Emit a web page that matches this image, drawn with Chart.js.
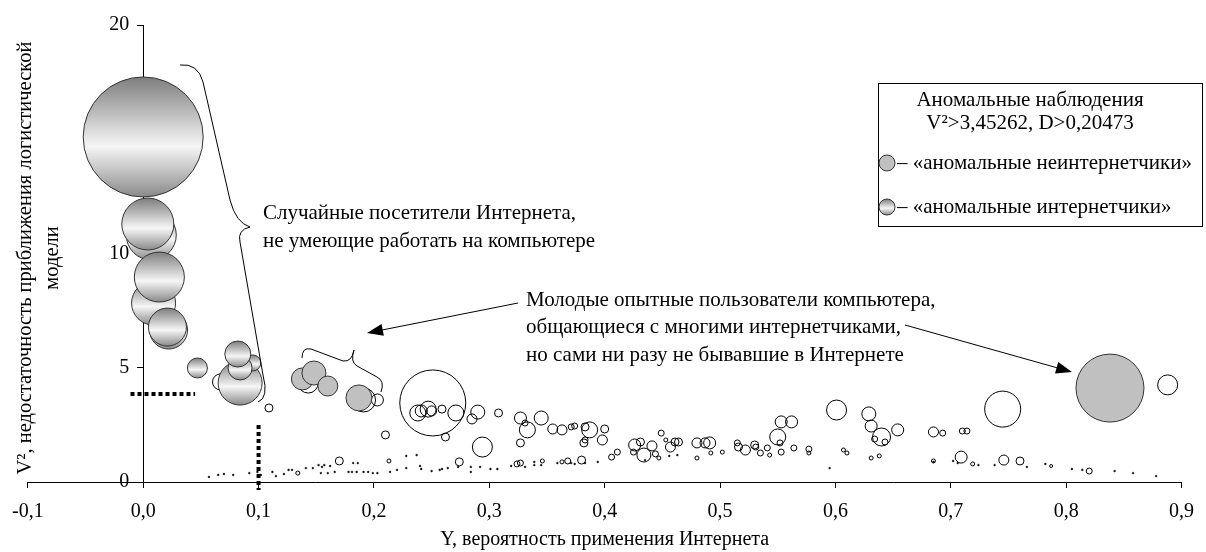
<!DOCTYPE html>
<html lang="ru">
<head>
<meta charset="UTF-8">
<title>Аномальные наблюдения</title>
<script src="https://cdn.jsdelivr.net/npm/chart.js@4"></script>
<style>
  html, body { margin: 0; padding: 0; background: #fff; }
  canvas { display: block; }
</style>
</head>
<body>
<canvas id="anomalyChart" width="1206" height="552"></canvas>
<script>
// оси
const xTicks = [-0.1, 0, 0.1, 0.2, 0.3, 0.4, 0.5, 0.6, 0.7, 0.8, 0.9];
const yTicks = [0, 5, 10, 15, 20];

// «аномальные неинтернетчики» (серые)
const grayX = [0.138, 0.148, 0.160, 0.187, 0.838];
const grayY = [4.51, 4.77, 4.20, 3.68, 4.11];
const grayR = [11, 12, 10, 13, 34];

// «аномальные интернетчики» (с переливом)
const shadedX = [0.000, 0.007, 0.004, 0.009, 0.014, 0.022, 0.021, 0.047, 0.084, 0.095, 0.084, 0.082];
const shadedY = [15.10, 10.81, 11.29, 7.83, 8.97, 6.65, 6.78, 4.99, 4.33, 5.21, 4.99, 5.60];
const shadedR = [60, 25, 26, 22, 25, 19, 19, 10, 22, 8, 12, 13];

// обычные наблюдения (пустые кружки)
const openX = [0.067, 0.143, 0.191, 0.203, 0.109, 0.210, 0.170, 0.251, 0.238, 0.241, 0.247, 0.250, 0.259, 0.271,
  0.262, 0.290, 0.285, 0.294, 0.308, 0.327, 0.333, 0.331, 0.327, 0.345, 0.355, 0.363, 0.371, 0.374, 0.383, 0.387,
  0.382, 0.383, 0.400, 0.398, 0.406, 0.411, 0.426, 0.434, 0.441, 0.431, 0.449, 0.453, 0.457, 0.461, 0.464, 0.444,
  0.447, 0.480, 0.487, 0.491, 0.480, 0.492, 0.502, 0.515, 0.516, 0.522, 0.530, 0.531, 0.535, 0.541, 0.543, 0.550,
  0.553, 0.562, 0.553, 0.552, 0.564, 0.577, 0.577, 0.601, 0.629, 0.631, 0.640, 0.654, 0.634, 0.643, 0.607, 0.610,
  0.631, 0.638, 0.685, 0.693, 0.710, 0.714, 0.709, 0.685, 0.719, 0.746, 0.760, 0.787, 0.820, 0.745, 0.888, 0.274,
  0.324, 0.327, 0.346, 0.363, 0.368, 0.380, 0.213, 0.134, 0.425];
const openY = [4.38, 4.33, 3.59, 3.59, 3.24, 2.06, 0.92, 3.46, 3.02, 3.11, 3.19, 3.11, 3.19, 3.02,
  1.97, 3.06, 2.76, 1.53, 3.02, 2.80, 2.28, 2.58, 1.71, 2.80, 2.32, 2.28, 2.41, 2.45, 2.41, 2.28,
  1.71, 1.84, 2.32, 1.84, 1.09, 1.31, 1.62, 1.18, 1.58, 1.75, 2.14, 1.84, 1.53, 1.75, 1.75, 1.23,
  1.05, 1.71, 1.71, 1.71, 1.05, 1.27, 1.31, 1.71, 1.53, 1.40, 1.62, 1.53, 1.27, 1.49, 1.18, 1.97,
  2.63, 2.63, 1.31, 1.71, 1.49, 1.44, 1.27, 3.15, 2.98, 2.45, 1.97, 2.28, 1.88, 1.75, 1.40, 1.27,
  1.05, 1.14, 2.19, 2.14, 2.23, 2.23, 1.09, 0.92, 0.79, 0.96, 0.92, 0.70, 0.48, 3.19, 4.25, 0.88,
  0.79, 0.83, 0.92, 0.88, 0.92, 0.96, 0.92, 0.39, 1.31];
const openR = [8, 10, 12, 6, 4, 4, 4, 33, 8, 6, 8, 5, 4, 8,
  4, 7, 5, 10, 4, 6, 8, 3, 4, 7, 5, 5, 3, 3, 4, 8,
  4, 3, 4, 5, 3, 3, 6, 7, 5, 4, 3, 2, 5, 4, 4, 3,
  2, 5, 5, 6, 2, 2, 2, 3, 4, 5, 4, 3, 3, 3, 2, 8,
  6, 6, 3, 3, 3, 3, 2, 10, 7, 6, 9, 6, 3, 3, 2, 2,
  2, 2, 5, 3, 3, 3, 6, 2, 2, 5, 4, 1.5, 3, 18, 10, 4,
  3, 3, 2, 2, 3, 4, 2, 2, 3];

// мелкие точки у оси
const dotX = [0.057, 0.065, 0.070, 0.078, 0.092, 0.099, 0.102, 0.112, 0.115, 0.122, 0.126, 0.129, 0.141, 0.147,
  0.152, 0.155, 0.157, 0.162, 0.154, 0.160, 0.166, 0.182, 0.186, 0.178, 0.181, 0.185, 0.191, 0.195, 0.199, 0.203,
  0.214, 0.220, 0.228, 0.228, 0.237, 0.240, 0.241, 0.250, 0.257, 0.259, 0.264, 0.273, 0.284, 0.284, 0.292, 0.301,
  0.307, 0.319, 0.331, 0.339, 0.339, 0.345, 0.359, 0.371, 0.374, 0.383, 0.394, 0.435, 0.456, 0.463, 0.595, 0.685,
  0.702, 0.706, 0.724, 0.738, 0.766, 0.782, 0.805, 0.814, 0.842, 0.858, 0.878];
const dotY = [0.22, 0.31, 0.35, 0.31, 0.39, 0.44, 0.31, 0.44, 0.26, 0.35, 0.53, 0.53, 0.61, 0.61,
  0.74, 0.66, 0.74, 0.70, 0.39, 0.39, 0.44, 0.83, 0.83, 0.44, 0.44, 0.44, 0.44, 0.44, 0.39, 0.39,
  0.44, 0.53, 0.61, 1.14, 1.18, 0.70, 0.57, 0.48, 0.53, 0.57, 0.61, 0.66, 0.66, 0.44, 0.66, 0.57,
  0.57, 0.70, 0.66, 0.88, 0.74, 0.74, 0.83, 0.83, 0.79, 0.83, 0.88, 0.96, 1.14, 1.18, 0.61, 0.88,
  0.92, 0.83, 0.74, 0.74, 0.66, 0.79, 0.57, 0.53, 0.48, 0.39, 0.26];

// пороговые линии (пунктир)
const cutV2 = 3.85;
const cutY = 0.1;

const FONT = "'Liberation Serif', 'Times New Roman', serif";

const toPoints = (xs, ys, rs) => xs.map((x, i) => ({ x, y: ys[i], r: Array.isArray(rs) ? rs[i] : rs }));

// вертикальный перелив серый-белый-серый
const shadedGradient = (c, cy, r) => {
    const g = c.createLinearGradient(0, cy - r, 0, cy + r);
    g.addColorStop(0, '#7e7e7e');
    g.addColorStop(0.58, '#f6f6f6');
    g.addColorStop(1, '#8a8a8a');
    return g;
};

const shadedFill = (ctx) => {
    const chart = ctx.chart;
    const raw = ctx.raw;
    if (!raw || !chart.scales.y) return '#c8c8c8';
    const cy = chart.scales.y.getPixelForValue(raw.y);
    if (!Number.isFinite(cy)) return '#c8c8c8';
    return shadedGradient(chart.ctx, cy, raw.r);
};

// подписи, скобки, стрелки, легенда
const decorations = {
    id: 'decorations',
    afterDraw(chart) {
        const c = chart.ctx;
        const sx = chart.scales.x, sy = chart.scales.y;
        c.save();
        c.fillStyle = '#000';
        c.strokeStyle = '#000';

        // пунктирные линии отсечения
        c.lineWidth = 4;
        c.setLineDash([4, 3]);
        c.beginPath();
        c.moveTo(sx.getPixelForValue(-0.011), sy.getPixelForValue(cutV2));
        c.lineTo(sx.getPixelForValue(0.045), sy.getPixelForValue(cutV2));
        c.moveTo(sx.getPixelForValue(cutY), sy.getPixelForValue(2.5));
        c.lineTo(sx.getPixelForValue(cutY), sy.getPixelForValue(-0.35));
        c.stroke();
        c.setLineDash([]);

        // фигурные скобки
        c.lineWidth = 1;
        c.beginPath();
        c.moveTo(180, 65);
        c.quadraticCurveTo(198, 63, 203, 82);
        c.lineTo(230, 200);
        c.quadraticCurveTo(236, 223, 250, 227);
        c.quadraticCurveTo(237, 230, 240, 242);
        c.lineTo(263, 375);
        c.quadraticCurveTo(269, 398, 258, 402);
        c.stroke();

        c.beginPath();
        c.moveTo(302, 358);
        c.quadraticCurveTo(302, 347, 311, 349);
        c.lineTo(343, 361);
        c.quadraticCurveTo(352, 362, 354, 350);
        c.quadraticCurveTo(350, 362, 357, 366);
        c.lineTo(377, 377);
        c.quadraticCurveTo(385, 381, 381, 392);
        c.stroke();

        // стрелки
        const arrow = (x1, y1, x2, y2) => {
            const a = Math.atan2(y2 - y1, x2 - x1);
            c.beginPath();
            c.moveTo(x1, y1);
            c.lineTo(x2 - 12 * Math.cos(a), y2 - 12 * Math.sin(a));
            c.stroke();
            c.beginPath();
            c.moveTo(x2, y2);
            c.lineTo(x2 - 16 * Math.cos(a) + 6 * Math.sin(a), y2 - 16 * Math.sin(a) - 6 * Math.cos(a));
            c.lineTo(x2 - 16 * Math.cos(a) - 6 * Math.sin(a), y2 - 16 * Math.sin(a) + 6 * Math.cos(a));
            c.closePath();
            c.fill();
        };
        arrow(518, 303, 367, 333);
        arrow(905, 325, 1072, 372);

        // тексты комментариев
        c.font = `21px ${FONT}`;
        c.textAlign = 'left';
        c.textBaseline = 'middle';
        c.fillText('Случайные посетители Интернета,', 263, 213);
        c.fillText('не умеющие работать на компьютере', 263, 241);
        c.fillText('Молодые опытные пользователи компьютера,', 526, 300);
        c.fillText('общающиеся с многими интернетчиками,', 526, 327);
        c.fillText('но сами ни разу не бывавшие в Интернете', 526, 355);

        // подпись оси Y (повёрнутая)
        c.save();
        c.font = `20.5px ${FONT}`;
        c.translate(26, 258);
        c.rotate(-Math.PI / 2);
        c.textAlign = 'center';
        c.fillText('V², недостаточность приближения логистической', 0, 0);
        c.fillText('модели', 0, 27);
        c.restore();

        // легенда
        c.lineWidth = 1;
        c.strokeRect(878.5, 83.5, 324, 143);
        c.textAlign = 'center';
        c.fillText('Аномальные наблюдения', 1030, 100);
        c.fillText('V²>3,45262, D>0,20473', 1030, 123);
        c.textAlign = 'left';
        c.beginPath();
        c.arc(887, 163, 8, 0, Math.PI * 2);
        c.fillStyle = '#c0c0c0';
        c.fill();
        c.strokeStyle = '#333';
        c.stroke();
        c.beginPath();
        c.arc(887, 207, 8, 0, Math.PI * 2);
        c.fillStyle = shadedGradient(c, 207, 8);
        c.fill();
        c.stroke();
        c.fillStyle = '#000';
        c.fillText('– «аномальные неинтернетчики»', 897, 163);
        c.fillText('– «аномальные интернетчики»', 897, 207);
        c.restore();
    }
};

const tickFont = { family: FONT, size: 20 };

new Chart(document.getElementById('anomalyChart'), {
    type: 'bubble',
    data: {
        datasets: [
            { label: 'аномальные неинтернетчики', data: toPoints(grayX, grayY, grayR),
              backgroundColor: '#c0c0c0', borderColor: '#333', borderWidth: 1, order: 1 },
            { label: 'аномальные интернетчики', data: toPoints(shadedX, shadedY, shadedR),
              backgroundColor: shadedFill, borderColor: '#333', borderWidth: 1, order: 2 },
            { label: 'остальные наблюдения', data: toPoints(openX, openY, openR),
              backgroundColor: 'rgba(255,255,255,0)', borderColor: '#000', borderWidth: 1, order: 3 },
            { label: 'мелкие', data: toPoints(dotX, dotY, 0.9),
              backgroundColor: '#000', borderColor: '#000', borderWidth: 0.5, order: 4 }
        ]
    },
    options: {
        responsive: false,
        animation: false,
        events: [],
        layout: { autoPadding: false, padding: { left: 25, right: 16, top: 25, bottom: 0 } },
        plugins: { legend: { display: false }, tooltip: { enabled: false } },
        scales: {
            x: {
                type: 'linear', min: -0.1, max: 0.9,
                afterBuildTicks: (s) => { s.ticks = xTicks.map(v => ({ value: v })); },
                afterFit: (s) => { s.height = 70; },
                ticks: { font: tickFont, color: '#000', padding: 12, maxRotation: 0, autoSkip: false,
                         callback: (v) => v.toFixed(1).replace('.', ',') },
                grid: { drawOnChartArea: false, drawTicks: true, tickLength: 6, color: '#000' },
                border: { color: '#000', width: 1 },
                title: { display: true, text: 'Y, вероятность применения Интернета', color: '#000',
                         font: { family: FONT, size: 20 }, padding: { top: 0, bottom: 0 } }
            },
            y: {
                type: 'linear', min: 0, max: 20, position: { x: 0 },
                afterBuildTicks: (s) => { s.ticks = yTicks.map(v => ({ value: v })); },
                afterFit: (s) => { s.width = 0; },
                ticks: { font: tickFont, color: '#000',
                         callback: (v) => String(v) + '\u2002\u2009' },
                grid: { drawOnChartArea: false, drawTicks: true, tickLength: 6, color: '#000' },
                border: { color: '#000', width: 1 }
            }
        }
    },
    plugins: [decorations]
});
</script>
</body>
</html>
